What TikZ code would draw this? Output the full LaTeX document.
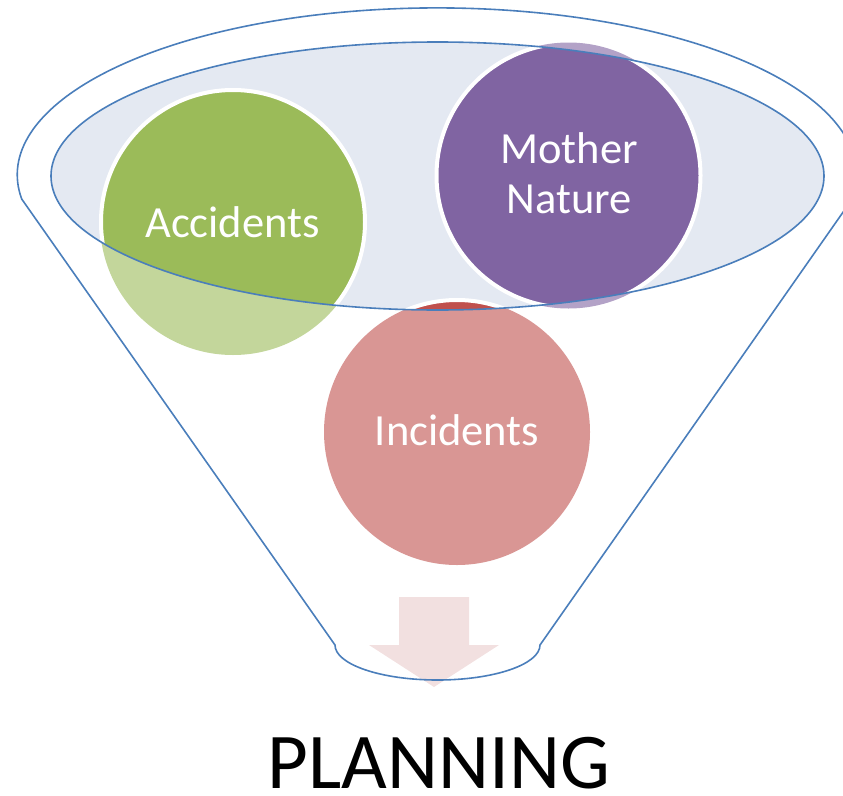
\documentclass[tikz,border=0pt]{standalone}
\usepackage{fontspec}
\setmainfont{Carlito}
\definecolor{funnelblue}{HTML}{4A7EBB}
\definecolor{ellfill}{HTML}{E4E9F2}
\definecolor{accdark}{HTML}{9BBB59}
\definecolor{acclight}{HTML}{C3D69B}
\definecolor{mndark}{HTML}{8064A2}
\definecolor{mnlight}{HTML}{B3A2C7}
\definecolor{incdark}{HTML}{C0504D}
\definecolor{inclight}{HTML}{D99694}
\definecolor{arrowfill}{HTML}{F2E0E0}
\begin{document}
\begin{tikzpicture}[x=1pt,y=-1pt,
  outline/.style={draw=funnelblue, line width=1.6pt},
  lightbubble/.style={circle, inner sep=0pt, minimum size=266pt, draw=none},
  darkbubble/.style={circle, inner sep=0pt, minimum size=264pt, draw=white, line width=4pt},
  label/.style={text=white, anchor=base, font=\fontsize{44.5}{50}\selectfont, align=center, inner sep=0pt}]
\useasboundingbox (0,0) rectangle (843,795);
\clip (0,0) rectangle (843,795);
% arrow
\fill[arrowfill] (399,597) -- (469,597) -- (469,645) -- (499,645) -- (434,687) -- (369,645) -- (399,645) -- cycle;
% funnel outline
\draw[outline] (21.7,199) arc[start angle=171.7, end angle=368.3, x radius=419.7, y radius=167]
  -- (540,645) arc[start angle=0, end angle=180, x radius=102.5, y radius=35] -- cycle;
% faded circles
\node[lightbubble, fill=acclight] (accL) at (233,222) {};
\node[lightbubble, fill=mnlight] (mnL) at (568.5,175.5) {};
\node[lightbubble, fill=inclight] (incL) at (457,432) {};
% inside ellipse
\begin{scope}
  \clip (437.5,176) ellipse[x radius=386.5, y radius=134];
  \fill[ellfill] (437.5,176) ellipse[x radius=386.5, y radius=134];
  \node[darkbubble, fill=accdark] (acc) at (233,222) {};
  \node[darkbubble, fill=mndark] (mn) at (568.5,175.5) {};
  \node[darkbubble, fill=incdark] (inc) at (457,432) {};
\end{scope}
\draw[outline] (437.5,176) ellipse[x radius=386.5, y radius=134];
% labels
\node[label] (accT) at (232.5,237) {Accidents};
\node[label] (mnT) at (569,213) {Mother\\Nature};
\node[label] (incT) at (457,445) {Incidents};
\node[anchor=base, inner sep=0pt, text depth=0pt, font=\fontsize{79}{90}\selectfont] (plan) at (439,788) {PLANNING};
\end{tikzpicture}
\end{document}
